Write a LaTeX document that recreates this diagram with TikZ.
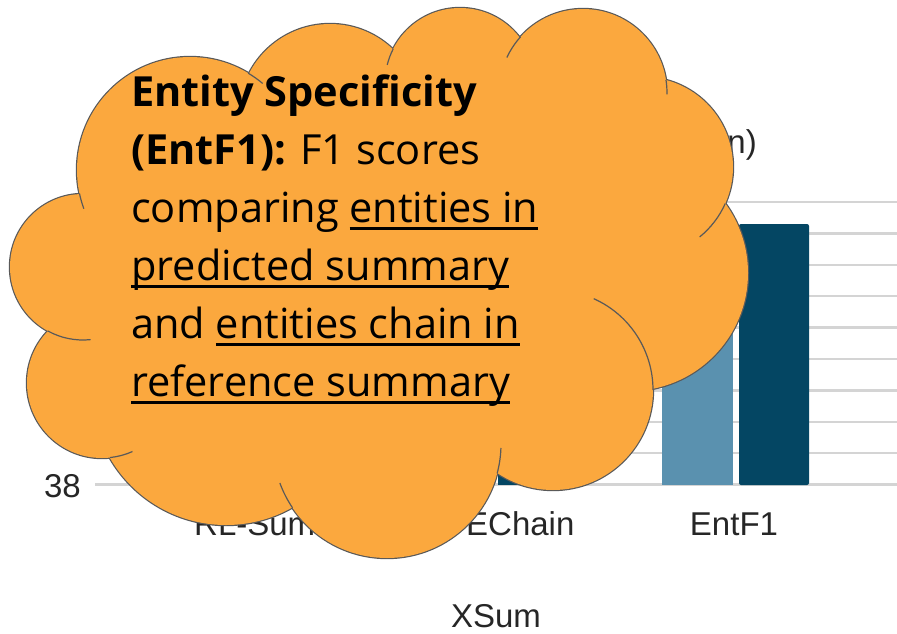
\documentclass[tikz,border=0pt]{standalone}
\usepackage{fontspec}
\setmainfont{Open Sans}
\newfontfamily\chartfont{Liberation Sans}
\usepackage{tikz}
\definecolor{cloudorange}{RGB}{251,168,62}
\definecolor{cloudline}{RGB}{89,89,89}
\definecolor{gridgray}{RGB}{212,212,212}
\definecolor{barlight}{RGB}{90,145,175}
\definecolor{bardark}{RGB}{4,70,99}
\newsavebox{\ulsave}
\newcommand{\ulbox}[1]{\sbox{\ulsave}{#1}\rlap{\rule[-7pt]{\wd\ulsave}{3pt}}\usebox{\ulsave}}
\tikzset{
  chartlabel/.style={font=\chartfont\fontsize{33}{36}\selectfont, text=black!85, inner sep=0pt},
  gridline/.style={gridgray, line width=2.5pt},
  puffedge/.style={fill=cloudorange, draw=cloudline, line width=2.4pt},
  puffinner/.style={draw=cloudline, line width=1.2pt},
  cloudtext/.style={align=left, inner sep=0pt, font=\fontsize{41.5}{58}\selectfont},
}

\begin{document}
\begin{tikzpicture}[x=1pt,y=-1pt]
\useasboundingbox (0,0) rectangle (897,633);
%%% The chart behind the callout
\foreach \k in {0,...,9}
  \draw[gridline] (95,{202+31.4*\k}) -- (897,{202+31.4*\k});
\fill[bardark] (498,485) rectangle (568,420);
\fill[barlight] (662,485) rectangle (733,300);
\fill[bardark, rounded corners=2pt] (739,485) rectangle (809,224);
\node[chartlabel, anchor=base east] (ytick) at (81,497) {38};
\node[chartlabel, anchor=base west] (xrlsum) at (194,535) {RL-Sum};
\node[chartlabel, anchor=base west] (xechain) at (466,535) {EChain};
\node[chartlabel, anchor=base] (xentf) at (734,535) {EntF1};
\node[chartlabel, anchor=base] (xtitle) at (496,627) {XSum};
\node[chartlabel, anchor=base east] (ctitle) at (757,153) {n)};
%%% The cloud: puffs with outline, then a second fill over the inner strokes
\foreach \cx/\cy/\r in {83/267/73, 190/170/113, 330/115/91, 460/83/75,
    583/93/84, 643/167/90, 630/273/118, 553/390/100, 387/444/114,
    226/391/134, 102/383/75}
  \draw[puffedge] (\cx,\cy) circle (\r);
\foreach \cx/\cy/\r in {83/267/73, 190/170/113, 330/115/91, 460/83/75,
    583/93/84, 643/167/90, 630/273/118, 553/390/100, 387/444/114,
    226/391/134, 102/383/75}
  \fill[cloudorange] (\cx,\cy) circle (\r);
\fill[cloudorange] (380,290) ellipse [x radius=300, y radius=180];
%%% short arcs where one puff runs into the next
\foreach \cx/\cy/\r/\a/\b in {190/170/113/168/160, 190/170/113/-59/-50,
    460/83/75/207/194, 583/93/84/222/205, 583/93/84/-9/1,
    643/167/90/24/51, 553/390/100/-66/0, 387/444/114/2/15,
    387/444/114/146/160, 102/383/75/84/66, 83/267/73/119/84}
  \draw[puffinner] (\cx,\cy) ++(\a:\r) arc[start angle=\a, end angle=\b, radius=\r];
\node[cloudtext, anchor=north west] (entdef) at (131,66)
  {\strut\textbf{Entity Specificity}\\
   \textbf{(EntF1):} F1 scores\\
   comparing \ulbox{entities in}\\
   \ulbox{predicted summary}\\
   and \ulbox{entities chain in}\\
   \ulbox{reference summary}};
\end{tikzpicture}
\end{document}
